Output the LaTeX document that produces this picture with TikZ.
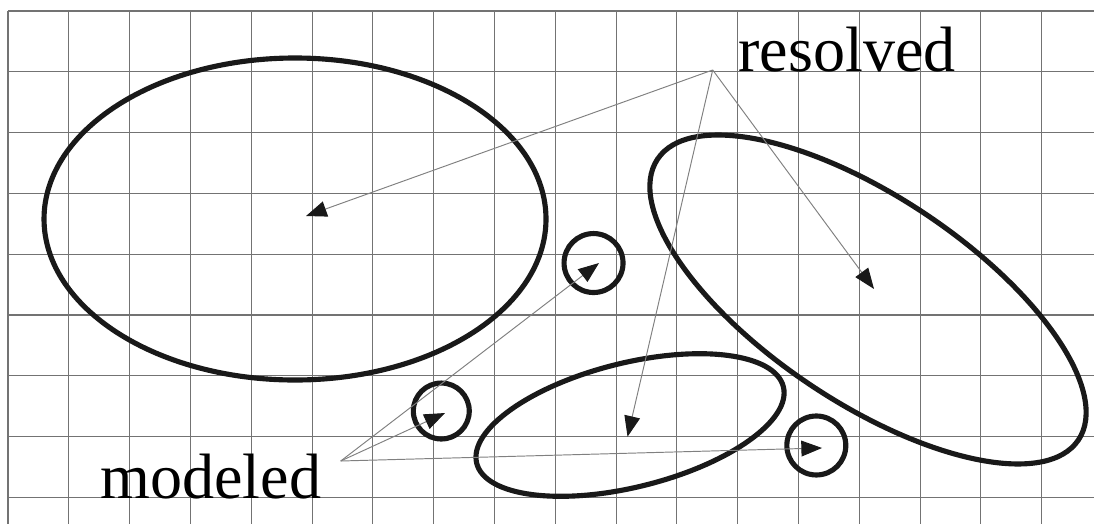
\documentclass[tikz,border=0pt]{standalone}
\usepackage{fontspec}
\setmainfont{Liberation Serif}
\usepackage{tikz}
\usetikzlibrary{arrows.meta, calc, positioning}

\tikzset{
  region/.style={line width=2.4pt, black!90},
  pointer/.style={gray, line width=0.45pt, -{Triangle[length=3.4mm, width=2.6mm, black!90]}},
  label/.style={inner sep=0pt, anchor=base west, font=\fontsize{30}{36}\selectfont}
}

\begin{document}
\begin{tikzpicture}
\useasboundingbox (0,0) rectangle (17.993,-8.618);

% Grid
\foreach \i in {0,...,17}
  \draw[black!55, line width=0.5pt] (0.132+\i,-0.181) -- (0.132+\i,-8.618);
\foreach \j in {0,...,8}
  \draw[black!55, line width=0.5pt] (0.132,-0.181-\j) -- (17.993,-0.181-\j);

% Resolved regions
\coordinate (leftc) at (4.852,-3.602);
\coordinate (rightc) at (14.276,-4.926);
\coordinate (bottomc) at (10.362,-6.990);
\draw[region] (leftc) ellipse (4.128 and 2.648);
\draw[region, rotate around={-33.7:(rightc)}] (rightc) ellipse (4.161 and 1.694);
\draw[region, rotate around={14:(bottomc)}] (bottomc) ellipse (2.599 and 1.020);

% Modeled regions
\draw[region] (9.762,-4.326) circle (0.485);
\draw[region] (7.258,-6.760) circle (0.46);
\draw[region] (13.426,-7.327) circle (0.485);

% Labels
\node[label] (resolved) at (12.138,-1.184) {resolved};
\node[label] (modeled) at (1.645,-8.191) {modeled};
\coordinate (resolvedsrc) at (11.722,-1.151);
\coordinate (modeledsrc) at (5.604,-7.582);

% Arrow targets
\coordinate (lefttip) at (5.033,-3.553);
\coordinate (bottomtip) at (10.321,-7.183);
\coordinate (righttip) at (14.375,-4.753);
\coordinate (circtipa) at (9.852,-4.326);
\coordinate (circtipb) at (7.319,-6.793);
\coordinate (circtipc) at (13.520,-7.368);

% Pointers
\draw[pointer] (resolvedsrc) -- (lefttip);
\draw[pointer] (resolvedsrc) -- (bottomtip);
\draw[pointer] (resolvedsrc) -- (righttip);
\draw[pointer] (modeledsrc) -- (circtipa);
\draw[pointer] (modeledsrc) -- (circtipb);
\draw[pointer] (modeledsrc) -- (circtipc);

\end{tikzpicture}
\end{document}
